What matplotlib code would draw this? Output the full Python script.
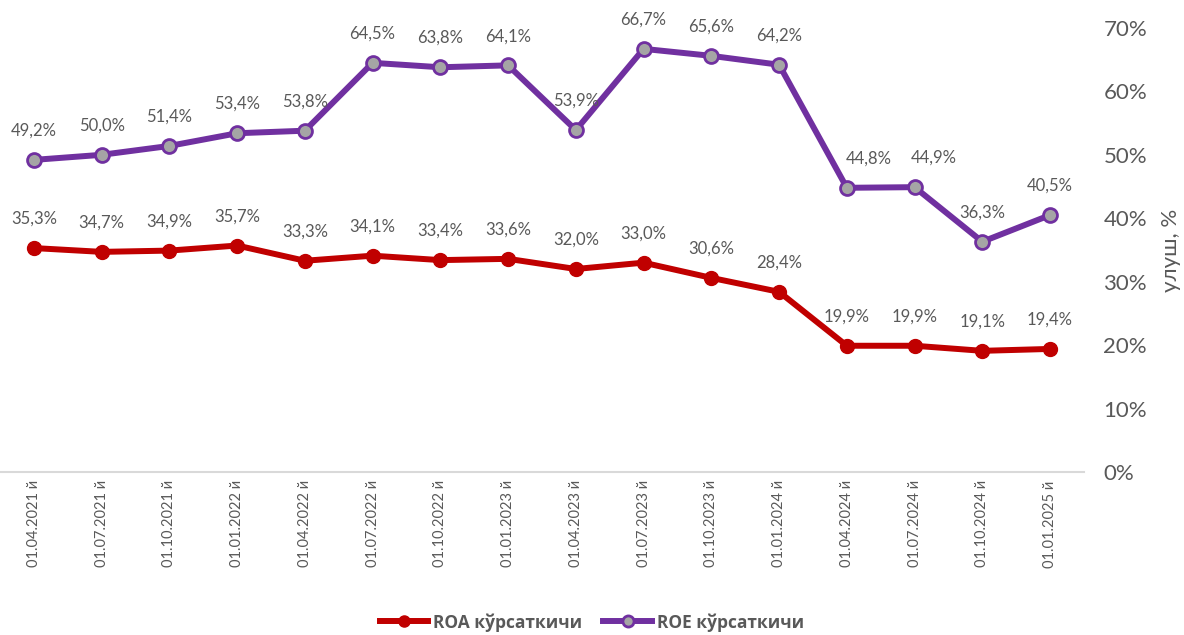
import matplotlib.pyplot as plt
from matplotlib.ticker import FuncFormatter

dates = ['01.04.2021 й', '01.07.2021 й', '01.10.2021 й', '01.01.2022 й',
         '01.04.2022 й', '01.07.2022 й', '01.10.2022 й', '01.01.2023 й',
         '01.04.2023 й', '01.07.2023 й', '01.10.2023 й', '01.01.2024 й',
         '01.04.2024 й', '01.07.2024 й', '01.10.2024 й', '01.01.2025 й']
roa = [35.3, 34.7, 34.9, 35.7, 33.3, 34.1, 33.4, 33.6, 32.0, 33.0, 30.6, 28.4,
       19.9, 19.9, 19.1, 19.4]
roe = [49.2, 50.0, 51.4, 53.4, 53.8, 64.5, 63.8, 64.1, 53.9, 66.7, 65.6, 64.2,
       44.8, 44.9, 36.3, 40.5]

plt.rcParams['font.family'] = ['Lato', 'DejaVu Sans']
grey = '#595959'

fig = plt.figure(figsize=(11.84, 6.35), dpi=100)
ax = fig.add_axes([0.0, 0.2567, 0.9155, 0.6993])

x = list(range(len(dates)))
ax.plot(x, roa, color='#C00000', lw=4.3, marker='o', ms=10,
        mfc='#C00000', mec='#C00000', label='ROA кўрсаткичи')
ax.plot(x, roe, color='#7030A0', lw=4.3, marker='o', ms=10,
        mfc='#A5A5A5', mec='#7030A0', mew=2, label='ROE кўрсаткичи')

# подписи значений
for xi, v in zip(x, roa):
    ax.annotate(f'{v:.1f}%'.replace('.', ','), (xi, v), xytext=(0, 21),
                textcoords='offset points', ha='center', va='center',
                fontsize=12, color=grey)
shift = {12: 16, 13: 14}
for xi, v in zip(x, roe):
    ax.annotate(f'{v:.1f}%'.replace('.', ','), (xi, v),
                xytext=(shift.get(xi, 0), 21),
                textcoords='offset points', ha='center', va='center',
                fontsize=12, color=grey)

ax.set_xlim(-0.5, len(dates) - 0.5)
ax.set_ylim(0, 70)
ax.set_yticks(range(0, 71, 10))
ax.yaxis.set_major_formatter(FuncFormatter(lambda v, p: f'{v:.0f}%'))
ax.yaxis.tick_right()
ax.yaxis.set_label_position('right')
ax.tick_params(axis='y', length=0, labelsize=16, labelcolor=grey, pad=14)
ax.set_ylabel('улуш, %', fontsize=16, color=grey, labelpad=10)

ax.set_xticks(x)
ax.set_xticklabels(dates, rotation=90, fontsize=10.5, color=grey)
ax.tick_params(axis='x', length=0, pad=6)

for s in ['top', 'right', 'left']:
    ax.spines[s].set_visible(False)
ax.spines['bottom'].set_color('#D9D9D9')
ax.spines['bottom'].set_linewidth(1.5)

leg = fig.legend(loc='center', bbox_to_anchor=(0.5, 0.02), ncol=2,
                 frameon=False, handlelength=2.8, handletextpad=0.3,
                 columnspacing=1.2, markerscale=0.8,
                 prop={'size': 12.5})
for t in leg.get_texts():
    t.set_color(grey)
    t.set_fontfamily(['Open Sans', 'DejaVu Sans'])
    t.set_fontweight('bold')

fig.savefig('out.png', dpi=100)
